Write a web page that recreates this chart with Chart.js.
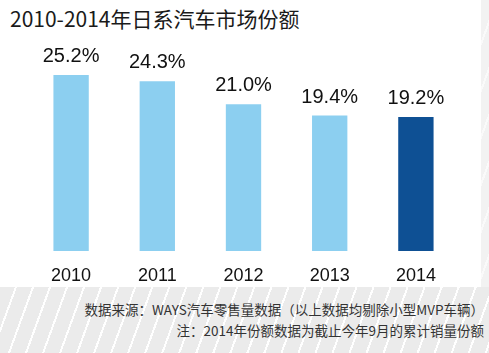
<!DOCTYPE html>
<html>
<head>
<meta charset="utf-8">
<script src="https://cdn.jsdelivr.net/npm/chart.js@4"></script>
<style>
  html, body { margin: 0; padding: 0; background: #fff; }
  #wrap { position: relative; width: 489px; height: 353px; overflow: hidden; background: #fff; }
  #footer { position: absolute; left: 0; top: 287px; width: 489px; height: 66px;
    background: repeating-linear-gradient(110deg, #ebebeb 0px, #ebebeb 14px, #ffffff 14px, #ffffff 16px); }
  #edge { position: absolute; left: 481px; top: 0; width: 8px; height: 287px;
    background: repeating-linear-gradient(110deg, #f2f2f2 0px, #f2f2f2 14px, #fafafa 14px, #fafafa 16px); }
  #title { position: absolute; left: 10px; top: 4px; font-family: "Noto Sans CJK SC", sans-serif;
    font-size: 21px; line-height: 28px; color: #1a1a1a; white-space: nowrap; }
  .note { position: absolute; right: 5px; font-family: "Noto Sans CJK SC", sans-serif;
    font-size: 13.5px; line-height: 18px; color: #333; white-space: nowrap; }
  #c { position: absolute; left: 0; top: 0; }
</style>
</head>
<body>
<div id="wrap">
  <div id="edge"></div>
  <div id="footer"></div>
  <div id="title">2010-2014年日系汽车市场份额</div>
  <div class="note" style="top:300px;">数据来源：WAYS汽车零售量数据（以上数据均剔除小型MVP车辆）</div>
  <div class="note" style="top:321px;">注：2014年份额数据为截止今年9月的累计销量份额</div>
  <div id="c" style="width:489px;height:353px;"><canvas id="chart"></canvas></div>
</div>
<script>
const years = ["2010", "2011", "2012", "2013", "2014"];
const shares = [25.2, 24.3, 21.0, 19.4, 19.2];
const barColors = ["#8ccff0", "#8ccff0", "#8ccff0", "#8ccff0", "#0e5094"];

const valueLabels = {
  id: "valueLabels",
  afterDatasetsDraw(chart) {
    const ctx = chart.ctx;
    const meta = chart.getDatasetMeta(0);
    ctx.save();
    ctx.font = "20px 'Liberation Sans', Arial, sans-serif";
    ctx.fillStyle = "#111";
    ctx.textAlign = "center";
    ctx.textBaseline = "alphabetic";
    meta.data.forEach((bar, i) => {
      ctx.fillText(shares[i].toFixed(1) + "%", bar.x, bar.y - 13);
    });
    ctx.restore();
  }
};

new Chart(document.getElementById("chart"), {
  type: "bar",
  data: {
    labels: years,
    datasets: [{
      data: shares,
      backgroundColor: barColors,
      borderWidth: 0,
      barPercentage: 0.82,
      categoryPercentage: 0.5
    }]
  },
  options: {
    responsive: true,
    maintainAspectRatio: false,
    animation: false,
    devicePixelRatio: 1,
    layout: { padding: { left: 28, right: 30, top: 41.5, bottom: 72 } },
    plugins: { legend: { display: false }, tooltip: { enabled: false } },
    scales: {
      x: {
        grid: { display: false },
        border: { display: false },
        ticks: { color: "#111", font: { family: "'Liberation Sans', Arial, sans-serif", size: 18 }, padding: 6 },
        afterFit(s) { s.height = 30; }
      },
      y: {
        display: false,
        min: 0,
        max: 30
      }
    }
  },
  plugins: [valueLabels]
});
</script>
</body>
</html>
